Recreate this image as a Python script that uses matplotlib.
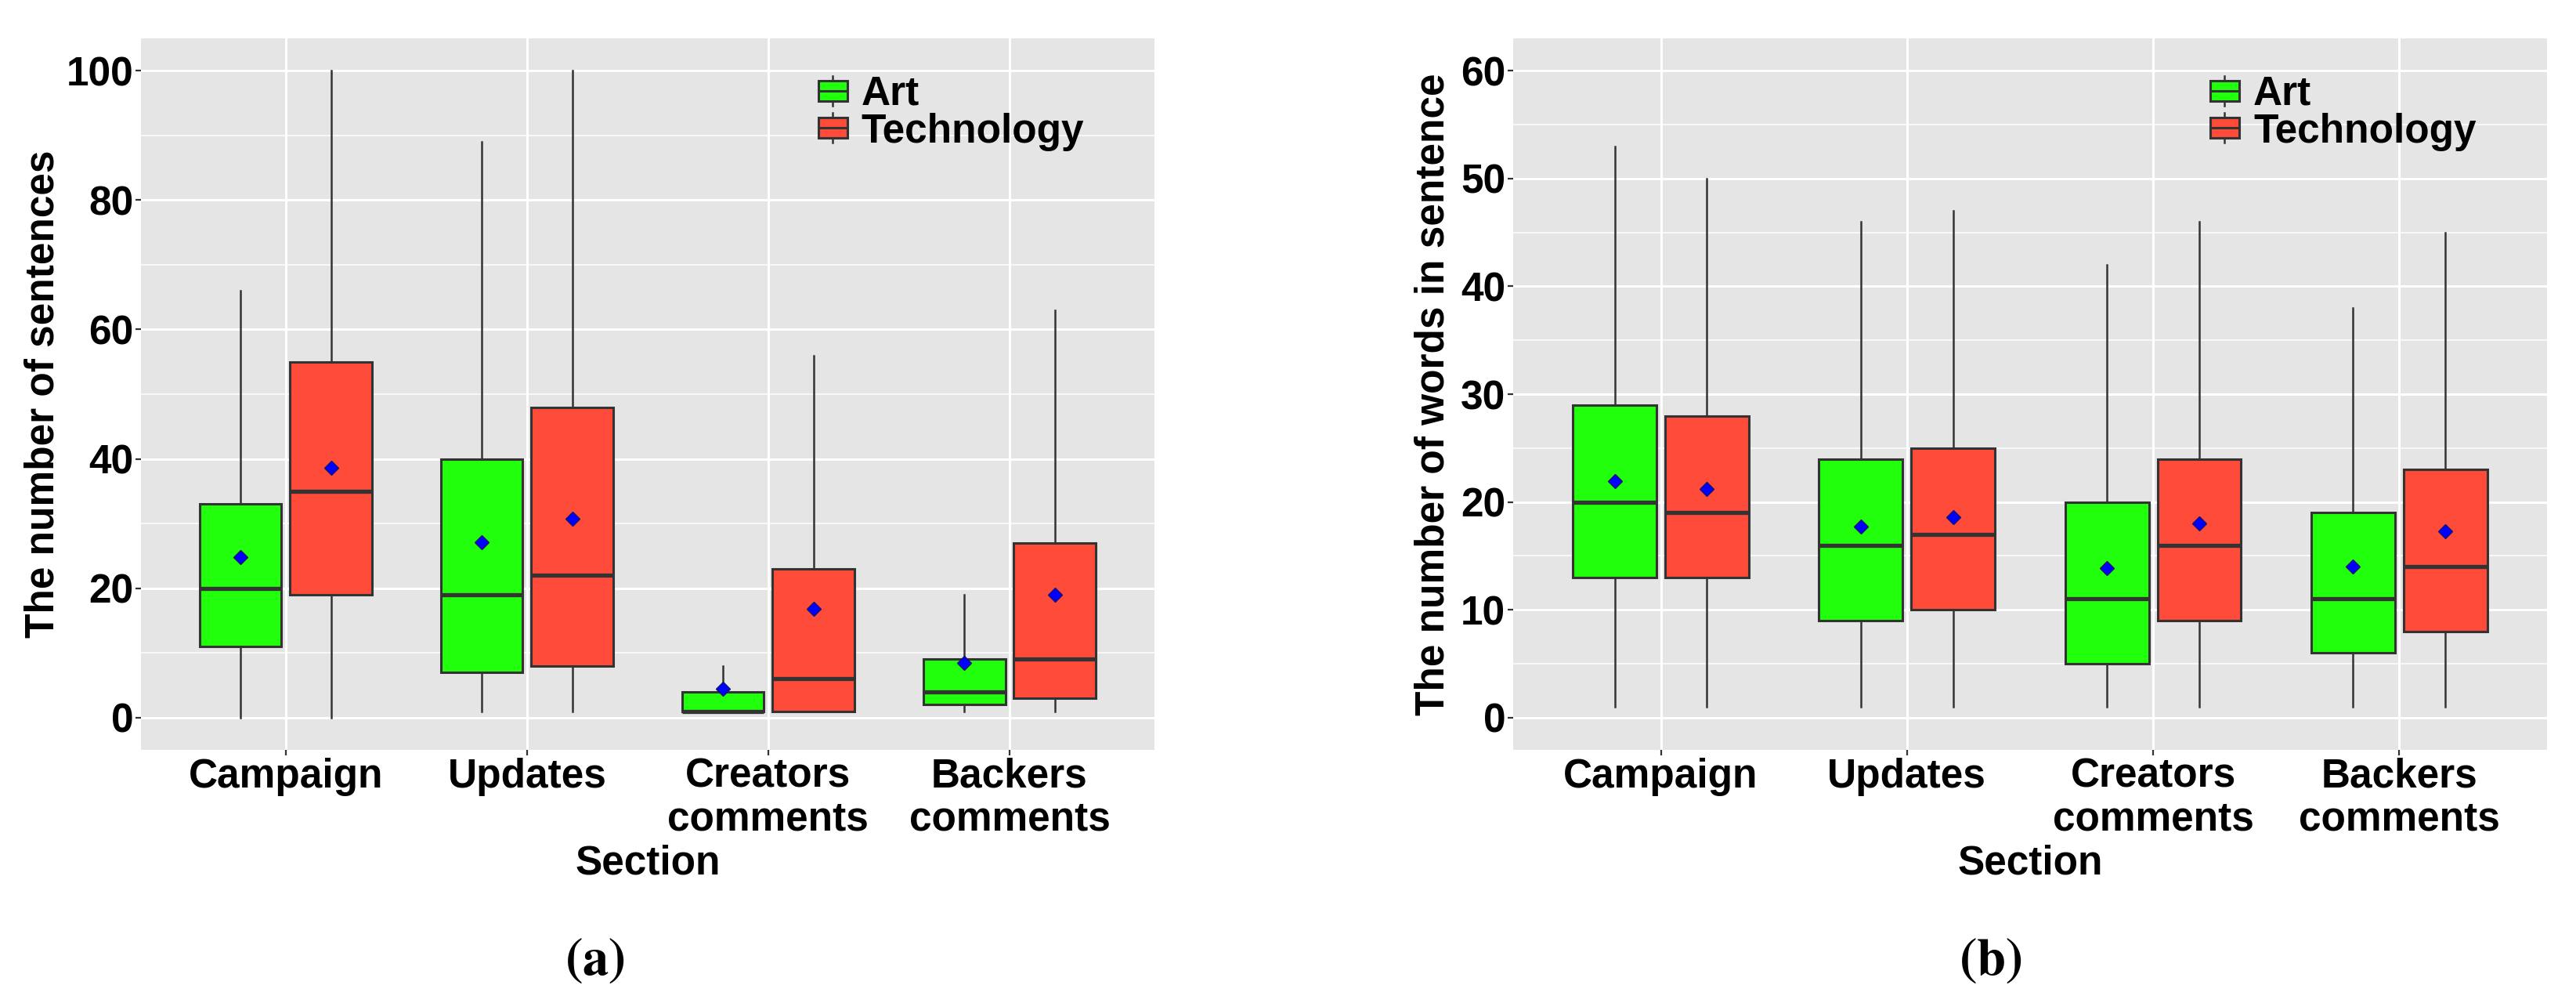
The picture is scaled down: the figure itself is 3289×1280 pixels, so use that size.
import numpy as np
import matplotlib
matplotlib.use("Agg")
import matplotlib.pyplot as plt
from matplotlib.patches import Rectangle

# categories and groups
sections = ["Campaign", "Updates", "Creators\ncomments", "Backers\ncomments"]
groups = ["Art", "Technology"]
group_colors = ["#22FF0C", "#FF4B3A"]

# (a) number of sentences: whisker low, q1, median, q3, whisker high, mean
sent_art_low = [0, 1, 1, 1]
sent_art_q1 = [11, 7, 1, 2]
sent_art_med = [20, 19, 1, 4]
sent_art_q3 = [33, 40, 4, 9]
sent_art_high = [66, 89, 8, 19]
sent_art_mean = [24.8, 27.1, 4.5, 8.5]

sent_tech_low = [0, 1, 1, 1]
sent_tech_q1 = [19, 8, 1, 3]
sent_tech_med = [35, 22, 6, 9]
sent_tech_q3 = [55, 48, 23, 27]
sent_tech_high = [100, 100, 56, 63]
sent_tech_mean = [38.6, 30.8, 16.8, 19.0]

# (b) number of words in sentence
words_art_low = [1, 1, 1, 1]
words_art_q1 = [13, 9, 5, 6]
words_art_med = [20, 16, 11, 11]
words_art_q3 = [29, 24, 20, 19]
words_art_high = [53, 46, 42, 38]
words_art_mean = [21.9, 17.7, 13.9, 14.0]

words_tech_low = [1, 1, 1, 1]
words_tech_q1 = [13, 10, 9, 8]
words_tech_med = [19, 17, 16, 14]
words_tech_q3 = [28, 25, 24, 23]
words_tech_high = [50, 47, 46, 45]
words_tech_mean = [21.2, 18.6, 18.0, 17.3]

EDGE = "#333333"
FS = 37

plt.rcParams["font.family"] = ["Liberation Sans", "DejaVu Sans"]
plt.rcParams["font.weight"] = "bold"
plt.rcParams["mathtext.fontset"] = "stix"


def make_stats(low, q1, med, q3, high, mean):
    return [dict(whislo=a, q1=b, med=c, q3=d, whishi=e, mean=f, fliers=[])
            for a, b, c, d, e, f in zip(low, q1, med, q3, high, mean)]


def draw_panel(ax, art, tech, ymax, step, ylabel_x, ylabel, cap_x, caption, legend_x):
    x = np.arange(1, len(sections) + 1)
    for st, off, col in [(art, -0.1875, group_colors[0]), (tech, 0.1875, group_colors[1])]:
        ax.bxp(st, positions=x + off, widths=0.34, patch_artist=True,
               showmeans=True, showcaps=False, showfliers=False, manage_ticks=False,
               boxprops=dict(facecolor=col, edgecolor=EDGE, linewidth=2.2),
               medianprops=dict(color=EDGE, linewidth=3.8),
               whiskerprops=dict(color=EDGE, linewidth=1.8),
               meanprops=dict(marker="D", markerfacecolor="#0000FF",
                              markeredgecolor="#14146E", markeredgewidth=1.0,
                              markersize=9))

    ax.set_facecolor("#E5E5E5")
    for s in ax.spines.values():
        s.set_visible(False)
    ax.set_axisbelow(True)
    ax.set_xlim(0.4, len(sections) + 0.6)
    ax.set_ylim(-0.05 * ymax, 1.05 * ymax)
    ax.set_xticks(x, sections, linespacing=1.15)
    ax.set_yticks(np.arange(0, ymax + 1, step))
    ax.set_yticks(np.arange(step / 2, ymax, step), minor=True)
    ax.grid(which="major", color="white", linewidth=2.2)
    ax.grid(which="minor", axis="y", color="white", linewidth=1.1)
    ax.tick_params(which="major", length=5, width=1.6, color=EDGE,
                   labelsize=FS, labelcolor="black", pad=2)
    ax.tick_params(which="minor", length=0)

    # legend (ggplot style keys inside the panel)
    w, h, stub = 0.0286, 0.0286, 0.0066
    for y0, ybase, col, lab in [(0.912, 0.9075, group_colors[0], groups[0]),
                                (0.860, 0.8535, group_colors[1], groups[1])]:
        ax.plot([legend_x + w / 2] * 2, [y0 - stub, y0 + h + stub],
                transform=ax.transAxes, color=EDGE, lw=1.8, zorder=5)
        ax.add_patch(Rectangle((legend_x, y0), w, h, transform=ax.transAxes,
                               facecolor=col, edgecolor=EDGE, lw=2.2, zorder=6))
        ax.plot([legend_x, legend_x + w], [y0 + h / 2] * 2,
                transform=ax.transAxes, color=EDGE, lw=2.2, zorder=7)
        ax.text(legend_x + 0.042, ybase, lab, transform=ax.transAxes,
                fontsize=FS, va="baseline", ha="left")

    pos = ax.get_position()
    fig.text(ylabel_x, (pos.y0 + pos.y1) / 2, ylabel, rotation=90,
             ha="right", va="center", fontsize=FS)
    fig.text((pos.x0 + pos.x1) / 2, 0.1289, "Section", ha="center",
             va="baseline", fontsize=FS)
    fig.text(cap_x, 0.0414, caption, ha="center", va="center", fontsize=48)


fig = plt.figure(figsize=(32.89, 12.8), dpi=100)
ax1 = fig.add_axes([0.0547, 0.2523, 0.3934, 0.7094])
ax2 = fig.add_axes([0.5874, 0.2523, 0.4013, 0.7094])

draw_panel(ax1,
           make_stats(sent_art_low, sent_art_q1, sent_art_med, sent_art_q3, sent_art_high, sent_art_mean),
           make_stats(sent_tech_low, sent_tech_q1, sent_tech_med, sent_tech_q3, sent_tech_high, sent_tech_mean),
           100, 20, 80 / 3289, "The number of sentences", 0.2308, r"$(\mathbf{a})$", 0.6685)
draw_panel(ax2,
           make_stats(words_art_low, words_art_q1, words_art_med, words_art_q3, words_art_high, words_art_mean),
           make_stats(words_tech_low, words_tech_q1, words_tech_med, words_tech_q3, words_tech_high, words_tech_mean),
           60, 10, 1855 / 3289, "The number of words in sentence", 0.7726, r"$(\mathbf{b})$", 0.674)

fig.savefig("out.png", dpi=100, facecolor="white")
